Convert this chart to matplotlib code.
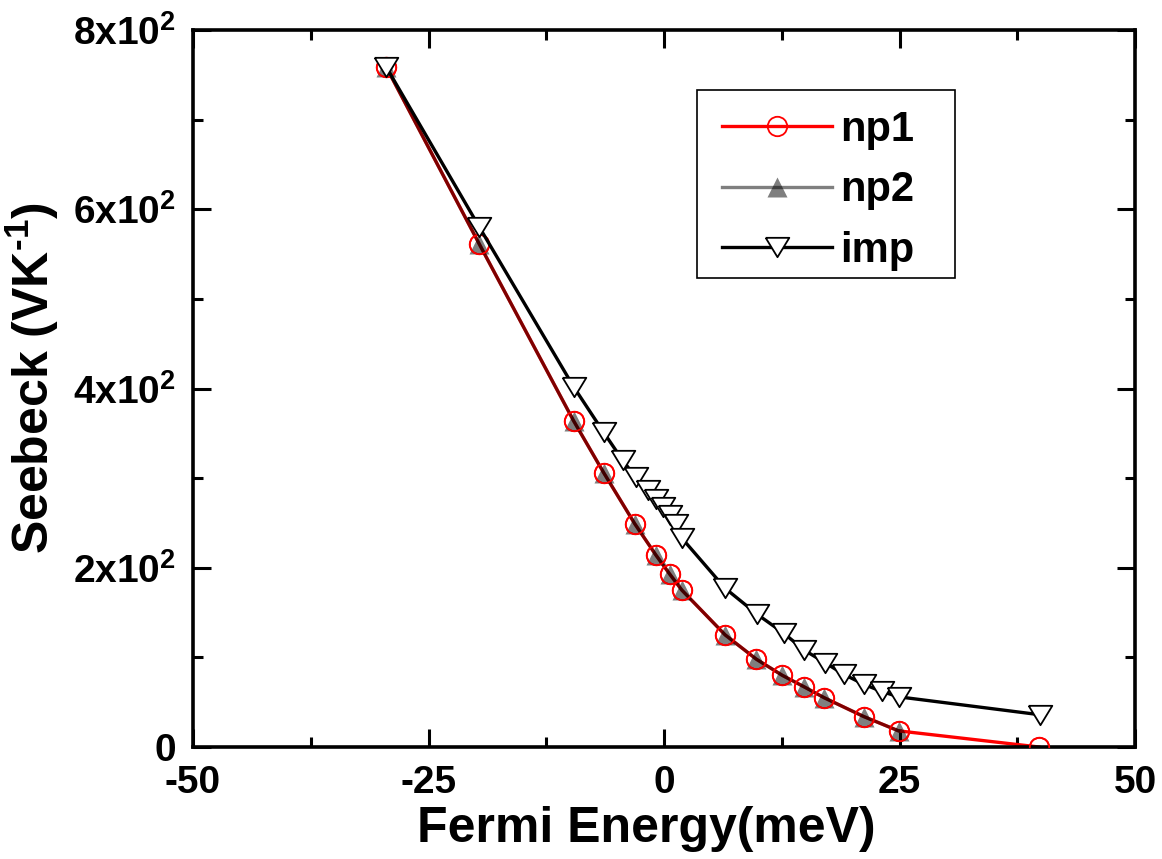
import numpy as np
import matplotlib
matplotlib.use("Agg")
import matplotlib.pyplot as plt
from matplotlib.patches import Rectangle
from matplotlib.ticker import MultipleLocator, FuncFormatter

# ---Data---
np1_x = [-29.5, -19.6, -9.6, -6.4, -3.1, -0.85, 0.6, 1.9, 6.5, 9.8, 12.55, 14.9, 17.0, 21.2, 24.9, 39.8]
np1_y = [759, 561, 364, 306, 249, 214, 193, 175, 125, 98, 80, 67, 55, 34, 18, 0]

np2_x = [-29.5, -19.6, -9.6, -6.4, -3.1, -0.85, 0.6, 1.9, 6.5, 9.8, 12.55, 14.9, 17.0, 21.2, 24.9]
np2_y = [759, 561, 364, 306, 249, 214, 193, 175, 125, 98, 80, 67, 55, 34, 18]

imp_x = [-29.5, -19.6, -9.6, -6.4, -4.4, -3.0, -1.7, -0.85, -0.1, 0.6, 1.3, 1.9,
         6.5, 9.9, 12.7, 14.9, 17.1, 19.1, 21.2, 23.1, 24.9, 39.9]
imp_y = [759, 580, 402, 351, 320, 301, 287, 277, 268, 259, 249, 233,
         177, 148, 127, 108, 94, 81, 70, 62, 56, 36]

plt.rcParams['font.family'] = ['Liberation Sans', 'DejaVu Sans']
plt.rcParams['font.weight'] = 'bold'
plt.rcParams['axes.unicode_minus'] = False
plt.rcParams['mathtext.fontset'] = 'custom'
plt.rcParams['mathtext.bf'] = 'Liberation Sans:bold'
plt.rcParams['mathtext.rm'] = 'Liberation Sans:bold'

W, H = 1162, 859
fig = plt.figure(figsize=(W / 100, H / 100), dpi=100)
ax = fig.add_axes([193 / W, 1 - 747 / H, 942 / W, 717 / H])

# flattened down-triangle for "imp"
tri_down = [(-1, 0.82), (1, 0.82), (0, -0.82), (-1, 0.82)]

l1, = ax.plot(np1_x, np1_y, color='red', lw=2.4, marker='o', ms=14,
              mfc='none', mec='red', mew=1.3, label='np1', zorder=2)
l2, = ax.plot(np2_x, np2_y, color='black', alpha=0.5, lw=2.4, marker='^', ms=15,
              mec='none', label='np2', zorder=3)
ax.plot(np1_x, np1_y, ls='none', marker='o', ms=14, mfc='none', mec='red',
        mew=1.3, zorder=4)
l3, = ax.plot(imp_x, imp_y, color='black', lw=2.4, marker=tri_down, ms=17,
              mfc='white', mec='black', mew=1.3, label='imp', zorder=5)

ax.set_xlim(-50, 50)
ax.set_ylim(0, 800)
ax.xaxis.set_major_locator(MultipleLocator(25))
ax.xaxis.set_minor_locator(MultipleLocator(12.5))
ax.yaxis.set_major_locator(MultipleLocator(200))
ax.yaxis.set_minor_locator(MultipleLocator(100))


def yfmt(v, pos):
    if v == 0:
        return '0'
    return r'%dx10$^{\mathbf{2}}$' % int(round(v / 100))


ax.yaxis.set_major_formatter(FuncFormatter(yfmt))

ax.tick_params(which='both', direction='in', top=True, right=True, width=2.2)
ax.tick_params(which='major', length=13, labelsize=28)
ax.tick_params(which='minor', length=7)
ax.tick_params(axis='x', which='major', pad=13)
ax.tick_params(axis='y', which='major', pad=12)
for s in ax.spines.values():
    s.set_linewidth(2.6)

ax.set_xlabel('Fermi Energy(meV)', fontsize=36, fontweight='bold')
ax.set_ylabel(r'Seebeck (VK$^{\text{-1}}$)', fontsize=36, fontweight='bold')
ax.xaxis.set_label_coords(0.481, -0.082)
ax.yaxis.set_label_coords(-0.14, 0.515)

# legend without frame, frame drawn separately to get the wider right margin
leg = fig.legend(handles=[l1, l2, l3], loc='upper left',
                 bbox_to_anchor=(722 / W, 1 - 110 / H), borderaxespad=0,
                 fontsize=30, handlelength=2.64, handletextpad=0.2,
                 labelspacing=0.49, borderpad=0, frameon=False)
fig.patches.append(Rectangle((697 / W, 1 - 278 / H), 258 / W, 188 / H,
                             transform=fig.transFigure, fill=False,
                             edgecolor='black', lw=1.2))

fig.savefig('out.png', dpi=100)
